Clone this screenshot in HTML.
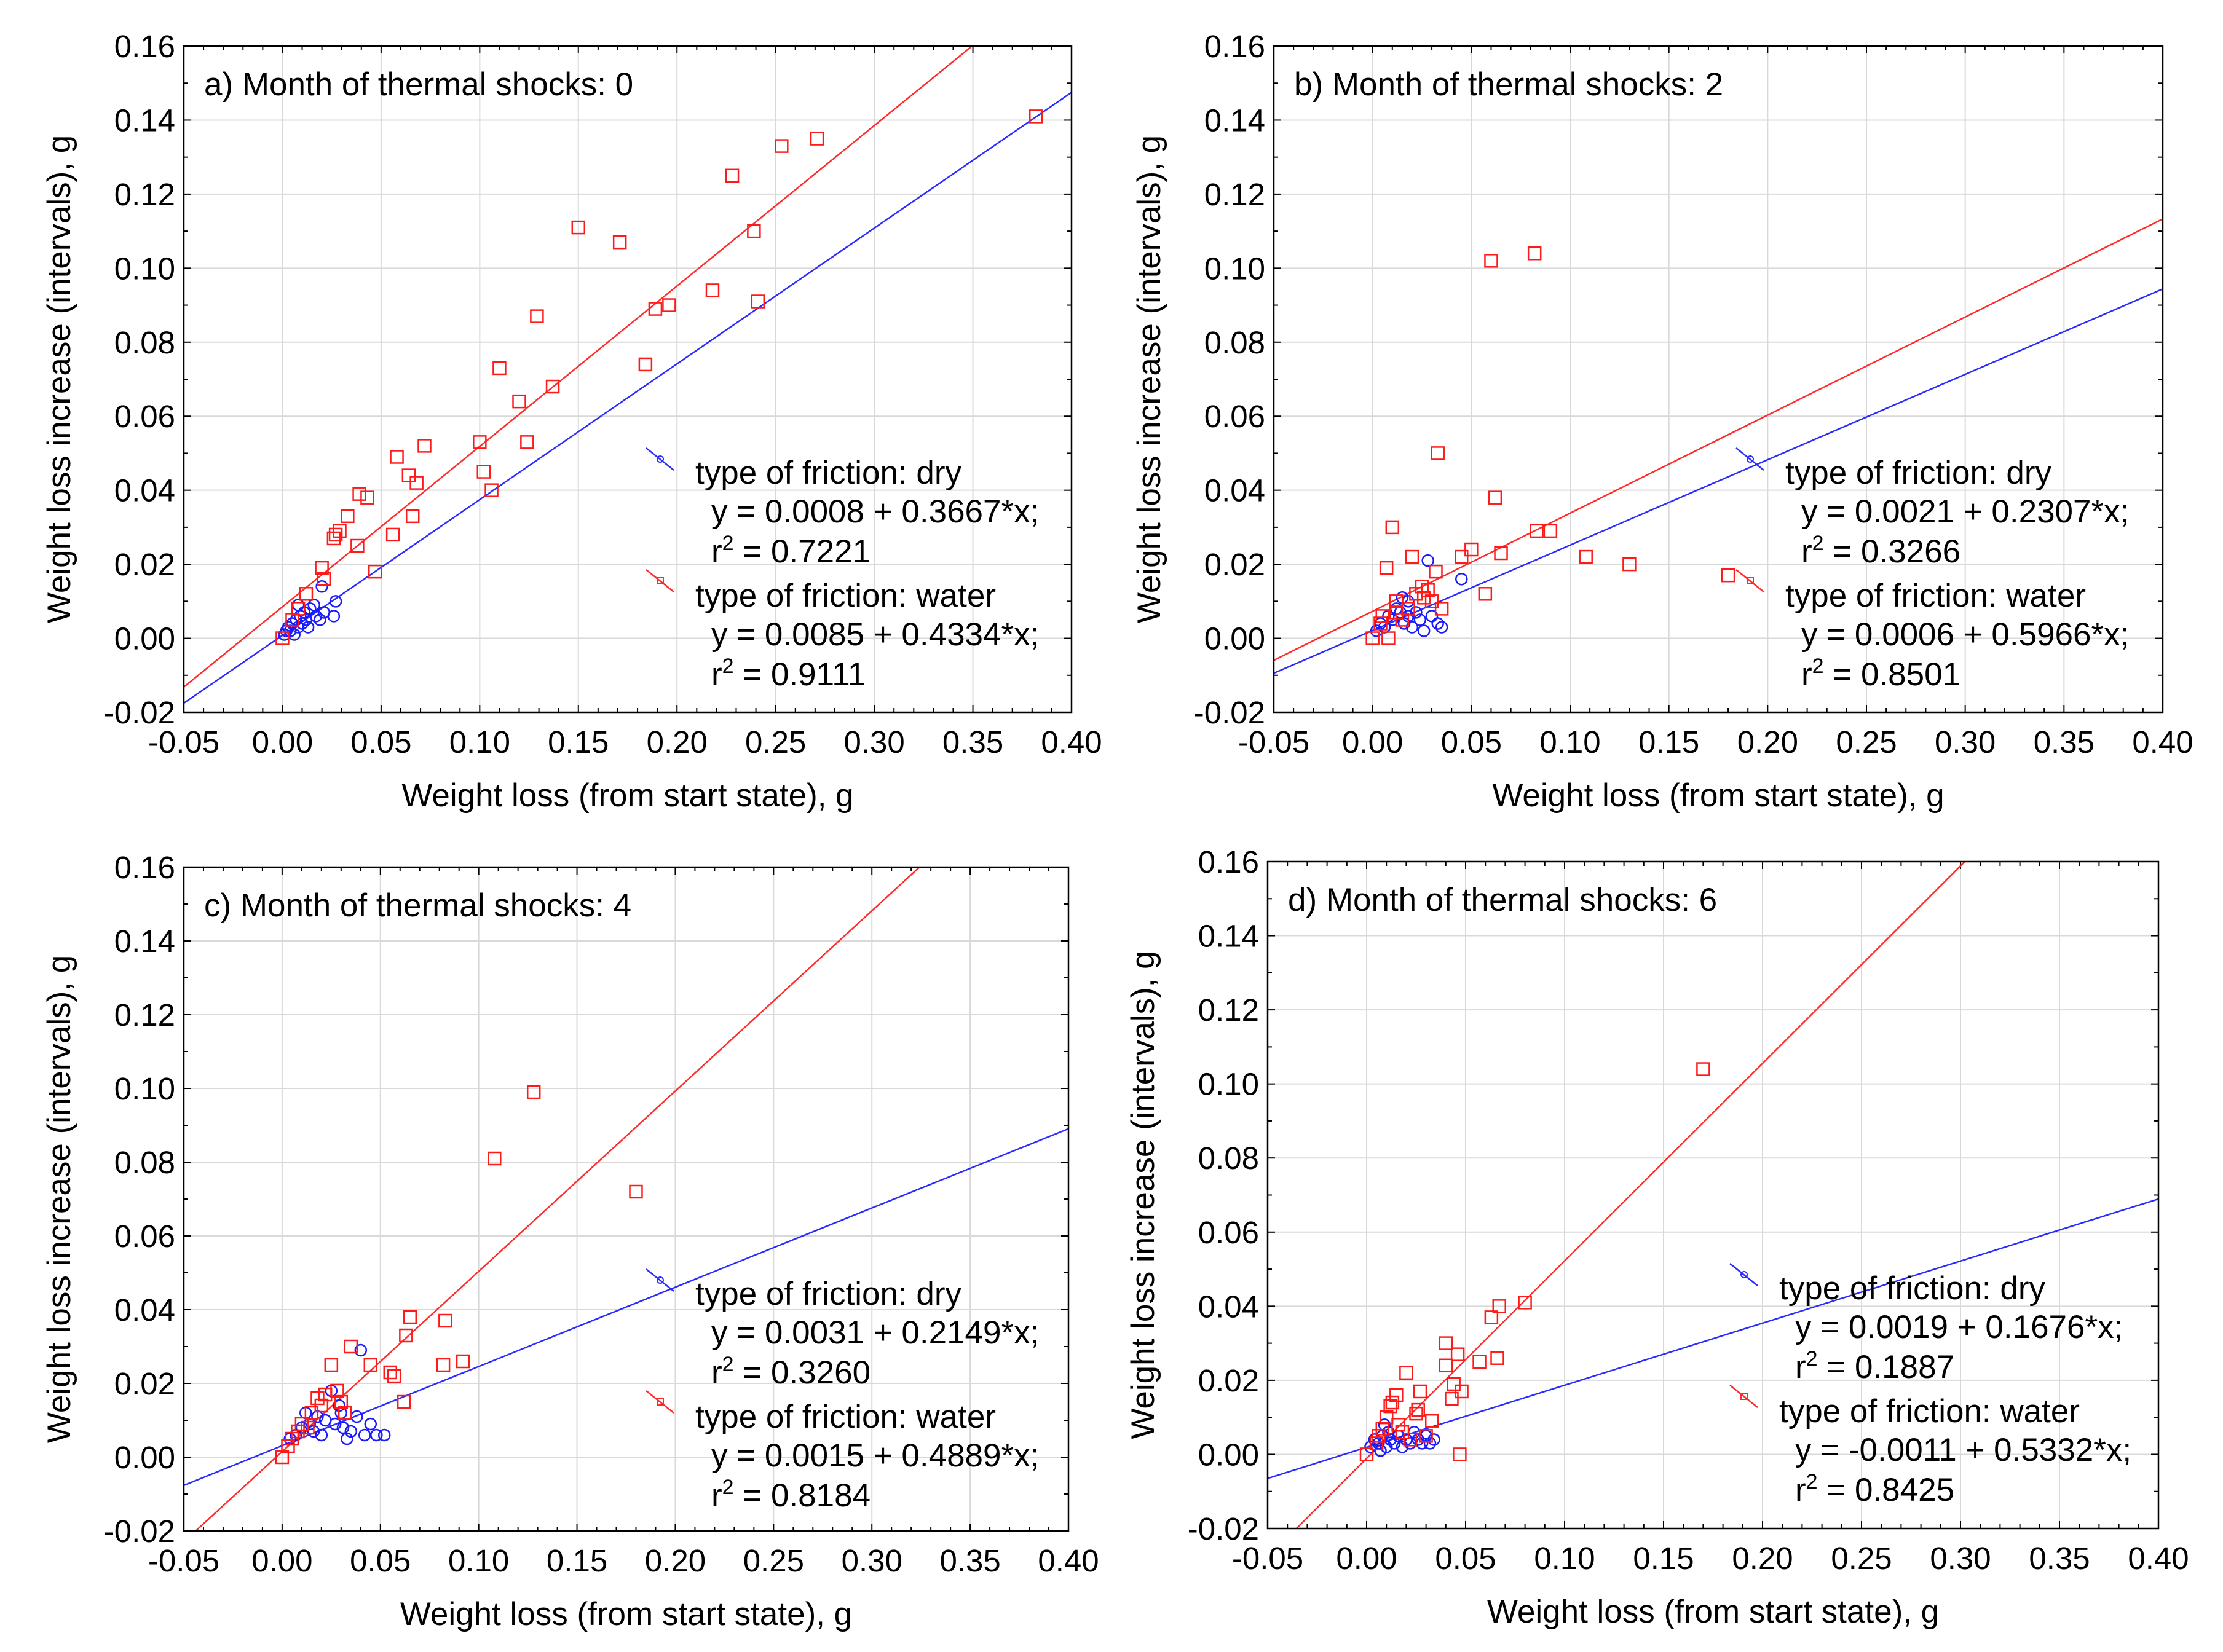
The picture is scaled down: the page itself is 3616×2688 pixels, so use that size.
<!DOCTYPE html>
<html><head><meta charset="utf-8"><style>
html,body{margin:0;padding:0;background:#fff;}
svg{display:block;font-family:"Liberation Sans",Arial,sans-serif;}
</style></head><body>
<svg id="chart" width="3616" height="2688" viewBox="0 0 3616 2688" xmlns="http://www.w3.org/2000/svg"></svg>
<script>
const xTicks=[-0.05,0,0.05,0.1,0.15,0.2,0.25,0.3,0.35,0.4];
const yTicks=[-0.02,0,0.02,0.04,0.06,0.08,0.1,0.12,0.14,0.16];
const panelTitles=["a) Month of thermal shocks: 0","b) Month of thermal shocks: 2","c) Month of thermal shocks: 4","d) Month of thermal shocks: 6"];
const dryIntercepts=[0.0008,0.0021,0.0031,0.0019];
const drySlopes=[0.3667,0.2307,0.2149,0.1676];
const dryR2=["0.7221","0.3266","0.3260","0.1887"];
const waterIntercepts=[0.0085,0.0073,0.0015,-0.0011];
const waterSlopes=[0.4334,0.265,0.4889,0.5332];
const waterR2=["0.9111","0.8501","0.8184","0.8425"];
const dryEqs=["y = 0.0008 + 0.3667*x;","y = 0.0021 + 0.2307*x;","y = 0.0031 + 0.2149*x;","y = 0.0019 + 0.1676*x;"];
const waterEqs=["y = 0.0085 + 0.4334*x;","y = 0.0006 + 0.5966*x;","y = 0.0015 + 0.4889*x;","y = -0.0011 + 0.5332*x;"];
const waterA=[[0,0],[0.005,0.005],[0.008,0.008],[0.012,0.012],[0.02,0.019],[0.021,0.016],[0.026,0.027],[0.027,0.028],[0.029,0.029],[0.033,0.033],[0.038,0.025],[0.039,0.039],[0.043,0.038],[0.047,0.018],[0.056,0.028],[0.058,0.049],[0.064,0.044],[0.066,0.033],[0.068,0.042],[0.072,0.052],[0.1,0.053],[0.102,0.045],[0.106,0.040],[0.11,0.073],[0.12,0.064],[0.124,0.053],[0.129,0.087],[0.137,0.068],[0.15,0.111],[0.171,0.107],[0.184,0.074],[0.189,0.089],[0.196,0.090],[0.218,0.094],[0.228,0.125],[0.239,0.110],[0.241,0.091],[0.253,0.133],[0.271,0.135],[0.382,0.141]];
const dryA=[[0.001,0.001],[0.002,0.002],[0.003,0.003],[0.004,0.002],[0.005,0.004],[0.006,0.001],[0.007,0.005],[0.008,0.003],[0.009,0.006],[0.01,0.004],[0.011,0.007],[0.012,0.005],[0.013,0.003],[0.014,0.008],[0.016,0.009],[0.017,0.006],[0.019,0.005],[0.02,0.014],[0.021,0.007],[0.026,0.006],[0.027,0.010],[0.008,0.009]];
const waterB=[[0,0],[0.005,0.006],[0.007,0.019],[0.008,0],[0.01,0.03],[0.012,0.01],[0.015,0.005],[0.018,0.008],[0.02,0.022],[0.022,0.012],[0.025,0.014],[0.028,0.013],[0.03,0.01],[0.032,0.018],[0.033,0.05],[0.035,0.008],[0.045,0.022],[0.05,0.024],[0.057,0.012],[0.06,0.102],[0.062,0.038],[0.065,0.023],[0.082,0.104],[0.083,0.029],[0.09,0.029],[0.108,0.022],[0.13,0.02],[0.18,0.017],[0.004,0.004],[0.012,0.007],[0.026,0.011]];
const dryB=[[0.002,0.002],[0.004,0.004],[0.006,0.003],[0.008,0.006],[0.01,0.005],[0.012,0.008],[0.014,0.007],[0.015,0.011],[0.016,0.004],[0.018,0.006],[0.02,0.003],[0.022,0.007],[0.024,0.005],[0.026,0.002],[0.028,0.021],[0.03,0.006],[0.033,0.004],[0.035,0.003],[0.045,0.016],[0.018,0.01]];
const waterC=[[0,0],[0.003,0.003],[0.005,0.005],[0.008,0.007],[0.01,0.009],[0.015,0.012],[0.018,0.016],[0.02,0.014],[0.025,0.025],[0.028,0.018],[0.03,0.015],[0.035,0.03],[0.045,0.025],[0.055,0.023],[0.057,0.022],[0.062,0.015],[0.063,0.033],[0.065,0.038],[0.082,0.025],[0.083,0.037],[0.092,0.026],[0.108,0.081],[0.128,0.099],[0.18,0.072],[0.013,0.008],[0.022,0.017],[0.032,0.012]];
const dryC=[[0.004,0.005],[0.007,0.006],[0.01,0.008],[0.012,0.012],[0.014,0.009],[0.016,0.007],[0.018,0.011],[0.02,0.006],[0.022,0.01],[0.025,0.018],[0.027,0.009],[0.029,0.014],[0.031,0.008],[0.033,0.005],[0.035,0.007],[0.038,0.011],[0.04,0.029],[0.042,0.006],[0.045,0.009],[0.048,0.006],[0.052,0.006],[0.03,0.012]];
const waterD=[[0,0],[0.005,0.003],[0.008,0.007],[0.01,0.01],[0.012,0.013],[0.013,0.014],[0.015,0.016],[0.016,0.008],[0.02,0.022],[0.025,0.011],[0.026,0.012],[0.027,0.017],[0.03,0.005],[0.033,0.009],[0.04,0.024],[0.04,0.03],[0.043,0.015],[0.044,0.019],[0.046,0.027],[0.047,0],[0.048,0.017],[0.057,0.025],[0.063,0.037],[0.067,0.04],[0.066,0.026],[0.08,0.041],[0.17,0.104],[0.006,0.005],[0.018,0.006],[0.022,0.004]];
const dryD=[[0.002,0.002],[0.004,0.004],[0.006,0.003],[0.007,0.001],[0.008,0.005],[0.01,0.002],[0.011,0.006],[0.012,0.004],[0.014,0.003],[0.016,0.005],[0.018,0.002],[0.02,0.004],[0.022,0.003],[0.024,0.006],[0.026,0.004],[0.028,0.003],[0.03,0.005],[0.032,0.003],[0.034,0.004],[0.009,0.008]];
const waterSets=[waterA,waterB,waterC,waterD];
const drySets=[dryA,dryB,dryC,dryD];
const boxes=[{L:299,R:1743,T:75,B:1159},{L:2072,R:3518,T:75,B:1159},{L:299,R:1738,T:1411,B:2491},{L:2062,R:3511,T:1402,B:2487}];
const ids=["a","b","c","d"];
const NS="http://www.w3.org/2000/svg";
const svg=document.getElementById('chart');
function mk(tag,attrs,parent,text){const e=document.createElementNS(NS,tag);for(const k in attrs)e.setAttribute(k,attrs[k]);if(text!==undefined)e.textContent=text;(parent||svg).appendChild(e);return e;}
const defs=mk('defs',{});
for(let p=0;p<4;p++){
 const b=boxes[p];
 const xs=v=>b.L+(v+0.05)/0.45*(b.R-b.L);
 const ys=v=>b.B-(v+0.02)/0.18*(b.B-b.T);
 const g=mk('g',{});
 
 
 const cp=mk('clipPath',{id:'clip'+p},defs);
 mk('rect',{x:b.L,y:b.T,width:b.R-b.L,height:b.B-b.T},cp);
 const grid=mk('g',{stroke:'#d9d9d9','stroke-width':2},g);
 
 
 xTicks.forEach(v=>{const x=xs(v);mk('line',{x1:x,x2:x,y1:b.T,y2:b.B},grid);});
 yTicks.forEach(v=>{const y=ys(v);mk('line',{x1:b.L,x2:b.R,y1:y,y2:y},grid);});
 const tk=mk('g',{stroke:'#000','stroke-width':2},g);
 
 
 for(let i=0;i<=45;i++){const v=-0.05+i*0.01;const x=xs(v);const len=(i%5==0)?12:7;
  mk('line',{x1:x,x2:x,y1:b.B,y2:b.B-len},tk);mk('line',{x1:x,x2:x,y1:b.T,y2:b.T+len},tk);}
 for(let i=0;i<=18;i++){const v=-0.02+i*0.01;const y=ys(v);const len=(i%2==0)?12:7;
  mk('line',{x1:b.L,x2:b.L+len,y1:y,y2:y},tk);mk('line',{x1:b.R,x2:b.R-len,y1:y,y2:y},tk);}
 xTicks.forEach(v=>{const t=mk('text',{x:xs(v),y:b.B+66,'font-size':51,'text-anchor':'middle'},g,v.toFixed(2));
  });
 yTicks.forEach(v=>{const t=mk('text',{x:b.L-14,y:ys(v)+18,'font-size':51,'text-anchor':'end'},g,v.toFixed(2));
  });
 const xt=mk('text',{x:(b.L+b.R)/2,y:b.B+153,'font-size':53,'text-anchor':'middle'},g,'Weight loss (from start state), g');
 
 const yx=b.L-185,yy=(b.T+b.B)/2;
 const yt=mk('text',{x:yx,y:yy,'font-size':53,'text-anchor':'middle',transform:`rotate(-90 ${yx} ${yy})`},g,'Weight loss increase (intervals), g');
 
 const lg=mk('g',{'clip-path':`url(#clip${p})`},g);
 const x0=-0.05,x1=0.4;
 const dl=mk('line',{x1:xs(x0),y1:ys(dryIntercepts[p]+drySlopes[p]*x0),x2:xs(x1),y2:ys(dryIntercepts[p]+drySlopes[p]*x1),stroke:'#2b2bff','stroke-width':2.5},lg);
 
 const wl=mk('line',{x1:xs(x0),y1:ys(waterIntercepts[p]+waterSlopes[p]*x0),x2:xs(x1),y2:ys(waterIntercepts[p]+waterSlopes[p]*x1),stroke:'#ff2b2b','stroke-width':2.5},lg);
 
 drySets[p].forEach(d=>{const c=mk('circle',{cx:xs(d[0]),cy:ys(d[1]),r:9,fill:'none',stroke:'#1a1aff','stroke-width':2.5},lg);
  });
 waterSets[p].forEach(d=>{const r=mk('rect',{x:xs(d[0])-10,y:ys(d[1])-10,width:20,height:20,fill:'none',stroke:'#ff1a1a','stroke-width':2.5},lg);
  });
 const fr=mk('rect',{x:b.L,y:b.T,width:b.R-b.L,height:b.B-b.T,fill:'none',stroke:'#000','stroke-width':2.5},g);
 
 const tt=mk('text',{x:b.L+33,y:b.T+80,'font-size':53},g,panelTitles[p]);
 
 const leg=mk('g',{'font-size':53},g);
 
 const tx=b.L+832, ix=b.L+858, iy=b.T+672;
 mk('line',{x1:tx-80,y1:iy-18,x2:tx-35,y2:iy+18,stroke:'#2b2bff','stroke-width':2.5},leg);
 mk('circle',{cx:tx-57,cy:iy,r:5,fill:'none',stroke:'#2b2bff','stroke-width':2},leg);
 mk('line',{x1:tx-80,y1:iy+180,x2:tx-35,y2:iy+216,stroke:'#ff2b2b','stroke-width':2.5},leg);
 mk('rect',{x:tx-62,y:iy+193,width:10,height:10,fill:'none',stroke:'#ff2b2b','stroke-width':2},leg);
 const base=b.T+712;
 const e1=mk('text',{x:tx,y:base},leg,'type of friction: dry');
 mk('text',{x:ix,y:base+63},leg,dryEqs[p]);
 const r1=mk('text',{x:ix,y:base+128},leg);r1.innerHTML='r<tspan font-size="34" dy="-20">2</tspan><tspan dy="20"> = '+dryR2[p]+'</tspan>';
 const e2=mk('text',{x:tx,y:base+200},leg,'type of friction: water');
 mk('text',{x:ix,y:base+263},leg,waterEqs[p]);
 const r2=mk('text',{x:ix,y:base+328},leg);r2.innerHTML='r<tspan font-size="34" dy="-20">2</tspan><tspan dy="20"> = '+waterR2[p]+'</tspan>';
}
</script>
</body></html>
